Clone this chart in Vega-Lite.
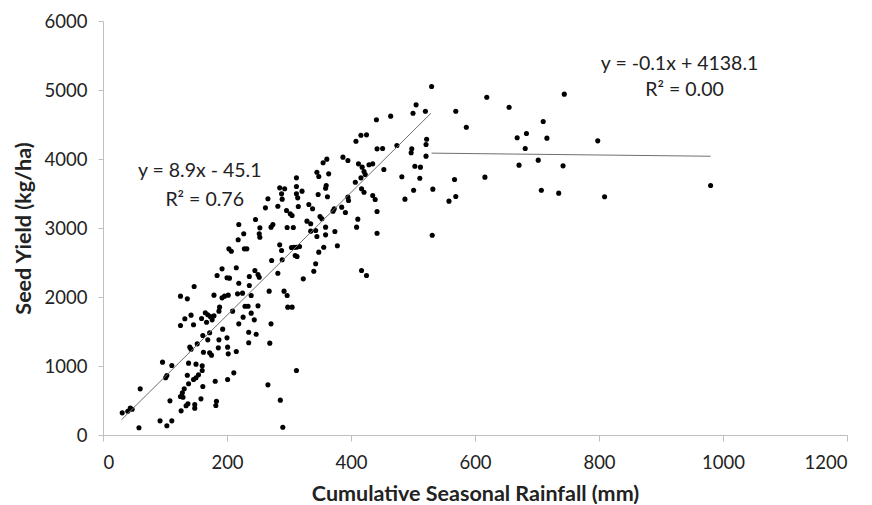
{
  "$schema": "https://vega.github.io/schema/vega-lite/v6.json",
  "width": 744,
  "height": 414,
  "autosize": {"type": "none"},
  "padding": {"left": 103, "top": 21, "right": 25, "bottom": 70},
  "background": "white",
  "config": {"view": {"stroke": null}, "font": "Lato"},
  "datasets": {
    "pts": [
      {"rain":147,"yield":2152},{"rain":125,"yield":2012},{"rain":136,"yield":1973},{"rain":179,"yield":2027},{"rain":192,"yield":1988},{"rain":196,"yield":2012},{"rain":202,"yield":2027},{"rain":217,"yield":2046},{"rain":225,"yield":2056},{"rain":219,"yield":2200},{"rain":236,"yield":2167},{"rain":239,"yield":2022},{"rain":188,"yield":1853},{"rain":187,"yield":1795},{"rain":209,"yield":1795},{"rain":229,"yield":1867},{"rain":234,"yield":1867},{"rain":226,"yield":1708},{"rain":239,"yield":1766},{"rain":219,"yield":1611},{"rain":235,"yield":1490},{"rain":235,"yield":1336},{"rain":132,"yield":1684},{"rain":142,"yield":1737},{"rain":125,"yield":1587},{"rain":146,"yield":1597},{"rain":165,"yield":1771},{"rain":169,"yield":1742},{"rain":159,"yield":1688},{"rain":173,"yield":1717},{"rain":179,"yield":1727},{"rain":176,"yield":1669},{"rain":167,"yield":1635},{"rain":193,"yield":1534},{"rain":161,"yield":1442},{"rain":172,"yield":1481},{"rain":169,"yield":1379},{"rain":187,"yield":1379},{"rain":200,"yield":1408},{"rain":201,"yield":1273},{"rain":186,"yield":1263},{"rain":172,"yield":1191},{"rain":175,"yield":1157},{"rain":162,"yield":1200},{"rain":215,"yield":1210},{"rain":202,"yield":1176},{"rain":140,"yield":1273},{"rain":142,"yield":1244},{"rain":152,"yield":1321},{"rain":96,"yield":1056},{"rain":111,"yield":1007},{"rain":103,"yield":862},{"rain":101,"yield":829},{"rain":138,"yield":1041},{"rain":150,"yield":1027},{"rain":160,"yield":1002},{"rain":160,"yield":935},{"rain":154,"yield":872},{"rain":150,"yield":829},{"rain":146,"yield":804},{"rain":136,"yield":867},{"rain":138,"yield":742},{"rain":131,"yield":669},{"rain":128,"yield":611},{"rain":125,"yield":558},{"rain":129,"yield":548},{"rain":108,"yield":495},{"rain":137,"yield":452},{"rain":134,"yield":423},{"rain":148,"yield":442},{"rain":148,"yield":389},{"rain":158,"yield":524},{"rain":161,"yield":703},{"rain":181,"yield":780},{"rain":201,"yield":804},{"rain":211,"yield":901},{"rain":183,"yield":490},{"rain":182,"yield":428},{"rain":126,"yield":350},{"rain":60,"yield":669},{"rain":44,"yield":389},{"rain":47,"yield":374},{"rain":40,"yield":345},{"rain":31,"yield":321},{"rain":58,"yield":104},{"rain":92,"yield":205},{"rain":103,"yield":133},{"rain":111,"yield":205},
      {"rain":219,"yield":3051},{"rain":218,"yield":2829},{"rain":203,"yield":2698},{"rain":207,"yield":2664},{"rain":192,"yield":2408},{"rain":215,"yield":2423},{"rain":184,"yield":2312},{"rain":200,"yield":2278},{"rain":204,"yield":2273},
      {"rain":441,"yield":4568},{"rain":464,"yield":4621},{"rain":408,"yield":4258},{"rain":416,"yield":4345},{"rain":425,"yield":4350},{"rain":442,"yield":4147},{"rain":451,"yield":4152},{"rain":474,"yield":4196},{"rain":387,"yield":4027},{"rain":395,"yield":3978},{"rain":361,"yield":3998},{"rain":355,"yield":3945},{"rain":345,"yield":3809},{"rain":348,"yield":3746},{"rain":364,"yield":3785},{"rain":412,"yield":3930},{"rain":418,"yield":3882},{"rain":421,"yield":3819},{"rain":423,"yield":3775},{"rain":429,"yield":3916},{"rain":435,"yield":3930},{"rain":453,"yield":3848},{"rain":407,"yield":3664},{"rain":416,"yield":3727},{"rain":417,"yield":3568},{"rain":421,"yield":3519},{"rain":435,"yield":3471},{"rain":439,"yield":3413},{"rain":442,"yield":3239},{"rain":442,"yield":2925},{"rain":395,"yield":3447},{"rain":396,"yield":3399},{"rain":385,"yield":3302},{"rain":391,"yield":3225},{"rain":373,"yield":3278},{"rain":371,"yield":3244},{"rain":360,"yield":3616},{"rain":359,"yield":3577},{"rain":347,"yield":3486},{"rain":362,"yield":3452},{"rain":312,"yield":3727},{"rain":285,"yield":3582},{"rain":293,"yield":3568},{"rain":288,"yield":3495},{"rain":289,"yield":3418},{"rain":266,"yield":3423},{"rain":262,"yield":3292},{"rain":282,"yield":3316},{"rain":312,"yield":3602},{"rain":312,"yield":3495},{"rain":314,"yield":3437},{"rain":321,"yield":3534},{"rain":296,"yield":3254},{"rain":302,"yield":3205},{"rain":305,"yield":3181},{"rain":315,"yield":3312},{"rain":332,"yield":3341},{"rain":338,"yield":3278},{"rain":350,"yield":3167},{"rain":353,"yield":3133},{"rain":329,"yield":3099},{"rain":335,"yield":3061},{"rain":335,"yield":2954},{"rain":343,"yield":2964},{"rain":359,"yield":3012},{"rain":359,"yield":2901},{"rain":374,"yield":2949},{"rain":345,"yield":2877},{"rain":411,"yield":3128},{"rain":409,"yield":3012},{"rain":246,"yield":3123},{"rain":253,"yield":3002},{"rain":252,"yield":2916},{"rain":253,"yield":2867},{"rain":274,"yield":3051},{"rain":271,"yield":3012},{"rain":297,"yield":3007},{"rain":307,"yield":3007},{"rain":285,"yield":2756},{"rain":288,"yield":2674},{"rain":304,"yield":2717},{"rain":308,"yield":2722},{"rain":312,"yield":2722},{"rain":317,"yield":2732},{"rain":310,"yield":2601},{"rain":313,"yield":2587},{"rain":272,"yield":2529},{"rain":289,"yield":2539},{"rain":356,"yield":2722},{"rain":348,"yield":2650},{"rain":378,"yield":2742},{"rain":343,"yield":2481},{"rain":340,"yield":2374},{"rain":323,"yield":2263},{"rain":282,"yield":2345},{"rain":245,"yield":2384},{"rain":250,"yield":2326},{"rain":252,"yield":2287},{"rain":236,"yield":2297},{"rain":417,"yield":2384},{"rain":425,"yield":2312},{"rain":227,"yield":2916},{"rain":228,"yield":2698},{"rain":232,"yield":2698},
      {"rain":268,"yield":2085},{"rain":292,"yield":2085},{"rain":297,"yield":2022},{"rain":298,"yield":1853},{"rain":305,"yield":1853},{"rain":250,"yield":1872},{"rain":244,"yield":1669},{"rain":247,"yield":1461},{"rain":269,"yield":1331},{"rain":271,"yield":1611},{"rain":312,"yield":935},{"rain":266,"yield":727},{"rain":286,"yield":505},{"rain":290,"yield":113},
      {"rain":530,"yield":5051},{"rain":505,"yield":4785},{"rain":500,"yield":4664},{"rain":520,"yield":4693},{"rain":569,"yield":4693},{"rain":619,"yield":4896},{"rain":655,"yield":4751},{"rain":586,"yield":4461},{"rain":710,"yield":4544},{"rain":668,"yield":4307},{"rain":683,"yield":4370},{"rain":716,"yield":4302},{"rain":681,"yield":4152},{"rain":702,"yield":3983},{"rain":671,"yield":3911},{"rain":522,"yield":4287},{"rain":521,"yield":4210},{"rain":521,"yield":4041},{"rain":498,"yield":4147},{"rain":497,"yield":4090},{"rain":503,"yield":3896},{"rain":512,"yield":3882},{"rain":511,"yield":3722},{"rain":482,"yield":3742},{"rain":501,"yield":3548},{"rain":487,"yield":3418},{"rain":532,"yield":3563},{"rain":567,"yield":3703},{"rain":569,"yield":3457},{"rain":558,"yield":3389},{"rain":616,"yield":3737},{"rain":707,"yield":3548},{"rain":735,"yield":3505},{"rain":531,"yield":2896},
      {"rain":744,"yield":4940},{"rain":798,"yield":4263},{"rain":742,"yield":3901},{"rain":809,"yield":3452},{"rain":980,"yield":3616}
    ],
    "fits": [
      {"fit":"low","rain":30,"yield":222},
      {"fit":"low","rain":529,"yield":4663},
      {"fit":"high","rain":530,"yield":4085},
      {"fit":"high","rain":980,"yield":4040}
    ],
    "notes": [
      {"rain":156,"yield":3833,"label":"y = 8.9x - 45.1"},
      {"rain":164,"yield":3413,"label":"R² = 0.76"},
      {"rain":930,"yield":5370,"label":"y = -0.1x + 4138.1"},
      {"rain":938,"yield":4993,"label":"R² = 0.00"}
    ]
  },
  "layer": [
    {
      "data": {"name": "pts"},
      "mark": {"type": "circle", "size": 26, "color": "black", "opacity": 1},
      "encoding": {
        "x": {
          "field": "rain", "type": "quantitative",
          "scale": {"domain": [0, 1200], "nice": false, "zero": true},
          "axis": {
            "title": "Cumulative Seasonal Rainfall (mm)",
            "values": [0, 200, 400, 600, 800, 1000, 1200],
            "format": "d",
            "grid": false,
            "domainColor": "#bfbfbf", "tickColor": "#bfbfbf", "tickSize": 6,
            "labelFontSize": 18.5, "labelColor": "#222", "labelPadding": 12,
            "titleFontSize": 21.5, "titleFontWeight": "bold", "titleColor": "#222", "titlePadding": 12
          }
        },
        "y": {
          "field": "yield", "type": "quantitative",
          "scale": {"domain": [0, 6000], "nice": false},
          "axis": {
            "title": "Seed Yield (kg/ha)",
            "values": [0, 1000, 2000, 3000, 4000, 5000, 6000],
            "format": "d",
            "grid": false,
            "domainColor": "#bfbfbf", "tickColor": "#bfbfbf", "tickSize": 5,
            "labelFontSize": 18.5, "labelColor": "#222", "labelPadding": 11,
            "titleFontSize": 21.5, "titleFontWeight": "bold", "titleColor": "#222", "titlePadding": 9
          }
        }
      }
    },
    {
      "data": {"name": "fits"},
      "mark": {"type": "line", "color": "#6f6f6f", "strokeWidth": 1},
      "encoding": {
        "x": {"field": "rain", "type": "quantitative"},
        "y": {"field": "yield", "type": "quantitative"},
        "detail": {"field": "fit"}
      }
    },
    {
      "data": {"name": "notes"},
      "mark": {"type": "text", "fontSize": 19.5, "color": "#222", "align": "center", "baseline": "middle"},
      "encoding": {
        "x": {"field": "rain", "type": "quantitative"},
        "y": {"field": "yield", "type": "quantitative"},
        "text": {"field": "label"}
      }
    }
  ]
}
